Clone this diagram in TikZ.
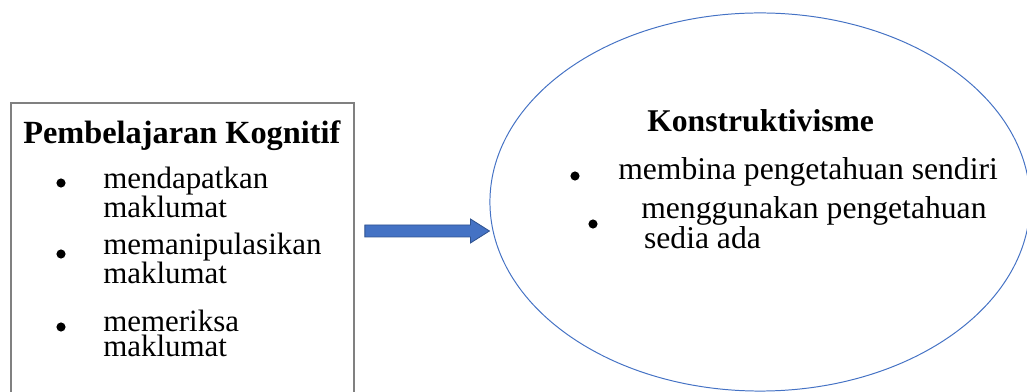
\documentclass[tikz,border=0pt]{standalone}
\usepackage{fontspec}
\setmainfont{Liberation Serif}
\usetikzlibrary{positioning, calc, shapes.geometric}
\definecolor{framegray}{HTML}{808080}
\definecolor{ringblue}{HTML}{4472C4}
\definecolor{arrowfill}{HTML}{4472C4}
\definecolor{arrowline}{HTML}{2F528F}

\begin{document}
\begin{tikzpicture}[
  x=0.025cm, y=-0.025cm,
  panel/.style={
    rectangle, draw=framegray, line width=1.3pt,
    minimum width=8.575cm, minimum height=7.6cm,
    inner sep=0pt, anchor=north west,
  },
  ring/.style={
    ellipse, draw=ringblue, line width=0.7pt,
    minimum width=13.5cm, minimum height=9.45cm, inner sep=0pt,
  },
  heading/.style={font=\fontsize{23}{26}\selectfont\bfseries, anchor=base west, inner sep=0pt},
  itemtext/.style={font=\fontsize{22}{#1}\selectfont, anchor=base west, inner sep=0pt, align=left},
  itemtext/.default={18},
  bulletdot/.style={circle, fill=black, inner sep=0pt, minimum size=6.5pt},
  blockarrow/.style={fill=arrowfill, draw=arrowline, line width=0.6pt},
]
  \useasboundingbox (0,0) rectangle (1027,392);
  \clip (0,0) rectangle (1027,392);

  % Pembelajaran Kognitif (left panel)
  % (multi-line items are placed by the baseline of their last line)
  \node[panel] (cog) at (10,102) {};
  \node[heading] (cogtitle) at (23,144) {Pembelajaran Kognitif};
  \node[bulletdot] (cogdotA) at (61,183) {};
  \node[itemtext] (cogA) at (103,218) {mendapatkan\\maklumat};
  \node[bulletdot] (cogdotB) at (61,254) {};
  \node[itemtext] (cogB) at (103,284) {memanipulasikan\\maklumat};
  \node[bulletdot] (cogdotC) at (61,327) {};
  \node[itemtext] (cogC) at (103,357) {memeriksa\\maklumat};

  % Konstruktivisme (ellipse)
  \node[ring] (kons) at (760,202) {};
  \node[heading, font=\fontsize{22.5}{26}\selectfont\bfseries] (konstitle) at (647,132) {Konstruktivisme};
  \node[bulletdot] (konsdotA) at (575,176) {};
  \node[itemtext, font=\fontsize{22.5}{18}\selectfont] (konsA) at (618,180) {membina pengetahuan sendiri};
  \node[bulletdot] (konsdotB) at (593,224) {};
  \node[itemtext=15.5, font=\fontsize{22.5}{15.5}\selectfont] (konsB) at (641,249) {menggunakan pengetahuan\\\hspace{2pt}sedia ada};

  % Block arrow
  \coordinate (tail) at ($(cog.north east)+(10,129)$);
  \coordinate (tip) at (kons.west |- tail);
  \draw[blockarrow] ($(tail)+(0,-6)$) -- ($(tip)+(-19,-6)$) -- ($(tip)+(-19,-12)$)
    -- (tip) -- ($(tip)+(-19,12)$) -- ($(tip)+(-19,6)$) -- ($(tail)+(0,6)$) -- cycle;

\end{tikzpicture}
\end{document}
